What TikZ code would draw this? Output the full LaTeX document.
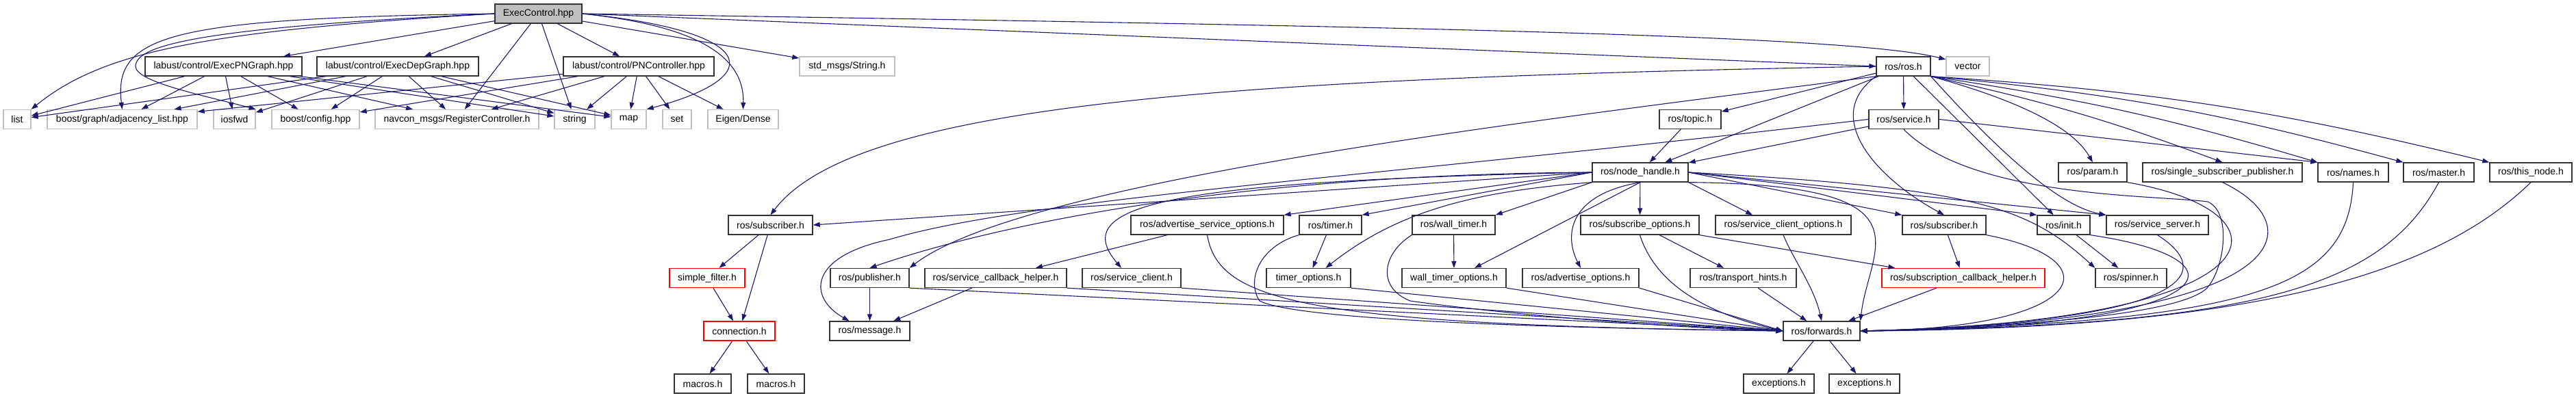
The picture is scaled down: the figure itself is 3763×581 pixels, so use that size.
\documentclass[tikz,border=0pt]{standalone}
\usepackage{fontspec}
\setmainfont{Liberation Sans}
\usepackage{tikz}
\usetikzlibrary{arrows.meta}
\usepackage{xcolor}
\definecolor{incblue}{HTML}{191970}
\definecolor{leafgray}{HTML}{BFBFBF}
\definecolor{boxred}{HTML}{FF0000}

\begin{document}
\begin{tikzpicture}[
  x=1pt, y=1pt,
  font=\fontsize{14}{16}\selectfont,
  >={Triangle[length=10pt, width=7pt]},
  file/.style={draw=black!80, line width=1.3pt, fill=white, minimum height=28pt, inner sep=0pt},
  sysfile/.style={file, draw=leafgray},
  brokenfile/.style={file, draw=boxred},
  rootfile/.style={file, fill=leafgray},
  inc/.style={->, draw=incblue, line width=1.1pt}
]
\useasboundingbox (0,0) rectangle (3763,-581);

\node[rootfile, minimum width=127pt] (execctl) at (786.5,-20) {ExecControl.hpp};
\node[file, minimum width=229pt] (pngraph) at (326.5,-97) {labust/control/ExecPNGraph.hpp};
\node[file, minimum width=236pt] (depgraph) at (581,-97) {labust/control/ExecDepGraph.hpp};
\node[file, minimum width=220pt] (pnctrl) at (933,-97) {labust/control/PNController.hpp};
\node[sysfile, minimum width=139pt] (stdstring) at (1237.5,-97) {std\_msgs/String.h};
\node[file, minimum width=79pt] (rosh) at (2780.5,-97) {ros/ros.h};
\node[sysfile, minimum width=63pt] (vector) at (2874.5,-97) {vector};

\node[sysfile, minimum width=40pt] (list) at (25,-174.5) {list};
\node[sysfile, minimum width=219pt] (adjlist) at (178.5,-174.5) {boost/graph/adjacency\_list.hpp};
\node[sysfile, minimum width=61pt] (iosfwd) at (342.5,-174.5) {iosfwd};
\node[sysfile, minimum width=128pt] (boostcfg) at (461,-174.5) {boost/config.hpp};
\node[sysfile, minimum width=239pt] (regctrl) at (667.5,-174.5) {navcon\_msgs/RegisterController.h};
\node[sysfile, minimum width=59pt] (string) at (839.5,-174.5) {string};
\node[sysfile, minimum width=51pt] (map) at (918.5,-174.5) {map};
\node[sysfile, minimum width=42pt] (set) at (989,-174.5) {set};
\node[sysfile, minimum width=103pt] (eigen) at (1085.5,-174.5) {Eigen/Dense};
\node[file, minimum width=90pt] (topic) at (2469,-174.5) {ros/topic.h};
\node[file, minimum width=102pt] (service) at (2781,-174.5) {ros/service.h};

\node[file, minimum width=140pt] (nodehandle) at (2396,-252) {ros/node\_handle.h};
\node[file, minimum width=100pt] (param) at (3057,-252) {ros/param.h};
\node[file, minimum width=233pt] (singlepub) at (3246.5,-252) {ros/single\_subscriber\_publisher.h};
\node[file, minimum width=103pt] (names) at (3437.5,-252) {ros/names.h};
\node[file, minimum width=103pt] (master) at (3562.5,-252) {ros/master.h};
\node[file, minimum width=120pt] (thisnode) at (3697,-252) {ros/this\_node.h};

\node[file, minimum width=123pt] (subleft) at (1125.5,-329) {ros/subscriber.h};
\node[file, minimum width=223pt] (advsrvopts) at (1763.5,-329) {ros/advertise\_service\_options.h};
\node[file, minimum width=91pt] (timer) at (1943.5,-329) {ros/timer.h};
\node[file, minimum width=121pt] (walltimer) at (2123.5,-329) {ros/wall\_timer.h};
\node[file, minimum width=173pt] (subopts) at (2395.5,-329) {ros/subscribe\_options.h};
\node[file, minimum width=198pt] (clientopts) at (2605,-329) {ros/service\_client\_options.h};
\node[file, minimum width=122pt] (subright) at (2840,-329) {ros/subscriber.h};
\node[file, minimum width=77pt] (init) at (3014.5,-329) {ros/init.h};
\node[file, minimum width=149pt] (srvserver) at (3151.5,-329) {ros/service\_server.h};

\node[brokenfile, minimum width=110pt] (simplefilter) at (1033,-406.5) {simple\_filter.h};
\node[file, minimum width=115pt] (publisher) at (1270.5,-406.5) {ros/publisher.h};
\node[file, minimum width=207pt] (srvcbhelper) at (1454.5,-406.5) {ros/service\_callback\_helper.h};
\node[file, minimum width=144pt] (srvclient) at (1653,-406.5) {ros/service\_client.h};
\node[file, minimum width=123pt] (timeropts) at (1911.5,-406.5) {timer\_options.h};
\node[file, minimum width=152pt] (walltimeropts) at (2124,-406.5) {wall\_timer\_options.h};
\node[file, minimum width=170pt] (advopts) at (2309,-406.5) {ros/advertise\_options.h};
\node[file, minimum width=155pt] (hints) at (2546.5,-406.5) {ros/transport\_hints.h};
\node[brokenfile, minimum width=238pt] (subcbhelper) at (2868,-406.5) {ros/subscription\_callback\_helper.h};
\node[file, minimum width=104pt] (spinner) at (3113,-406.5) {ros/spinner.h};

\node[brokenfile, minimum width=104pt] (connection) at (1080,-484) {connection.h};
\node[file, minimum width=117pt] (message) at (1270.5,-484) {ros/message.h};
\node[file, minimum width=112pt] (forwards) at (2661,-484) {ros/forwards.h};

\node[file, minimum width=83pt] (macrosa) at (1026.5,-561) {macros.h};
\node[file, minimum width=83pt] (macrosb) at (1133.5,-561) {macros.h};
\node[file, minimum width=103pt] (exca) at (2598.5,-561) {exceptions.h};
\node[file, minimum width=103pt] (excb) at (2723.5,-561) {exceptions.h};

\draw[inc] (execctl) -- (pngraph);
\draw[inc] (execctl) -- (depgraph);
\draw[inc] (execctl) -- (pnctrl);
\draw[inc] (execctl) -- (regctrl);
\draw[inc] (execctl) -- (string);
\draw[inc] (execctl) -- (stdstring);
\draw[inc] (execctl.east) .. controls (1100,-45) and (1130,-110) .. (map.north east);
\draw[inc] (execctl.east) .. controls (990,-35) and (1088,-70) .. (eigen.north);
\draw[inc] (execctl.east) -- (rosh.west);
\draw[inc] (execctl.east) .. controls (2000,-38) and (2700,-50) .. ([yshift=10pt]vector.west);
\draw[inc] (execctl.west) .. controls (300,-45) and (150,-75) .. (list.north east);
\draw[inc] (execctl.west) .. controls (250,-27) and (165,-50) .. (adjlist.north);
\draw[inc] (execctl.west) .. controls (300,-40) and (198,-65) .. (198,-97) .. controls (198,-120) and (300,-140) .. (iosfwd.north east);

\draw[inc] (pngraph) -- (list);
\draw[inc] (pngraph) -- (adjlist);
\draw[inc] (pngraph) -- (iosfwd);
\draw[inc] (pngraph) -- (boostcfg);
\draw[inc] (pngraph) -- (regctrl);
\draw[inc] (pngraph) -- (string);
\draw[inc] (pngraph) -- (map);
\draw[inc] (depgraph) -- (list);
\draw[inc] (depgraph) -- (adjlist);
\draw[inc] (depgraph) -- (iosfwd);
\draw[inc] (depgraph) -- (boostcfg);
\draw[inc] (depgraph) -- (regctrl);
\draw[inc] (depgraph) -- (string);
\draw[inc] (depgraph) -- (map);
\draw[inc] (pnctrl) -- (adjlist);
\draw[inc] (pnctrl) -- (boostcfg);
\draw[inc] (pnctrl) -- (regctrl);
\draw[inc] (pnctrl) -- (string);
\draw[inc] (pnctrl) -- (map);
\draw[inc] (pnctrl) -- (set);
\draw[inc] (pnctrl) -- (eigen);

\draw[inc] (rosh) -- (topic);
\draw[inc] (rosh) -- (nodehandle);
\draw[inc] (rosh) -- (service);
\draw[inc] (rosh.west) .. controls (1800,-115) and (1250,-150) .. (subleft.north);
\draw[inc] (rosh.south west) .. controls (2300,-170) and (1500,-260) .. (publisher.north east);
\draw[inc] (rosh.south west) .. controls (2660,-170) and (2740,-260) .. (subright.north);
\draw[inc] (rosh) -- (init);
\draw[inc] (rosh.south east) .. controls (2900,-200) and (3000,-300) .. (srvserver.north west);
\draw[inc] (rosh.south east) .. controls (2960,-150) and (3030,-190) .. (param.north);
\draw[inc] (rosh.south east) to[bend left=4] (singlepub.north);
\draw[inc] (rosh.south east) to[bend left=4] (names.north west);
\draw[inc] (rosh.south east) to[bend left=5] (master.north west);
\draw[inc] (rosh.south east) to[bend left=5] (thisnode.north west);

\draw[inc] (topic) -- (nodehandle);
\draw[inc] (service) -- (nodehandle);
\draw[inc] (service.east) -- (names.north west);
\draw[inc] (service.west) .. controls (2000,-260) and (1500,-290) .. (1300,-350) .. controls (1180,-375) and (1180,-435) .. ([xshift=-30pt]message.north);
\draw[inc] (service.south) .. controls (2880,-290) and (3150,-285) .. (3225,-295) .. controls (3260,-310) and (3250,-390) .. (3225,-420) .. controls (3190,-460) and (2950,-478) .. (forwards.east);

\draw[inc] (nodehandle.west) -- (subleft.east);
\draw[inc] (nodehandle.west) .. controls (1800,-255) and (1450,-330) .. (publisher.north);
\draw[inc] (nodehandle.west) .. controls (1700,-265) and (1560,-300) .. ([xshift=-15pt]srvclient.north);
\draw[inc] (nodehandle.west) -- (advsrvopts.north east);
\draw[inc] (nodehandle.west) -- (timer.north east);
\draw[inc] (nodehandle.south west) .. controls (2150,-280) and (2040,-310) .. ([xshift=25pt]timeropts.north);
\draw[inc] (nodehandle.south west) -- (walltimer.north east);
\draw[inc] (nodehandle.south) -- ([xshift=30pt]walltimeropts.north);
\draw[inc] (nodehandle.south) .. controls (2290,-285) and (2285,-345) .. (advopts.north);
\draw[inc] (nodehandle) -- (subopts);
\draw[inc] (nodehandle.south east) -- ([xshift=-45pt]clientopts.north);
\draw[inc] (nodehandle.east) -- (subright.north west);
\draw[inc] (nodehandle.east) -- (init.north west);
\draw[inc] (nodehandle.east) -- (srvserver.north west);
\draw[inc] (nodehandle.east) .. controls (2880,-275) and (2960,-300) .. (spinner.north west);
\draw[inc] (nodehandle.south east) .. controls (2830,-270) and (2730,-360) .. (forwards.north east);

\draw[inc] (subleft) -- (simplefilter);
\draw[inc] (subleft) -- (connection);
\draw[inc] (simplefilter) -- (connection);
\draw[inc] (connection) -- (macrosa);
\draw[inc] (connection) -- (macrosb);
\draw[inc] (publisher) -- (message);
\draw[inc] (publisher.south east) -- (forwards.west);
\draw[inc] (srvcbhelper) -- (message);
\draw[inc] (srvcbhelper.south east) -- (forwards.west);
\draw[inc] (srvclient.south east) -- (forwards.west);
\draw[inc] (advsrvopts) -- (srvcbhelper);
\draw[inc] (advsrvopts.south) .. controls (1780,-440) and (1900,-475) .. (forwards.west);
\draw[inc] (timer) -- (timeropts);
\draw[inc] (timer.south west) .. controls (1840,-360) and (1820,-410) .. (1840,-440) .. controls (1900,-470) and (2300,-480) .. (forwards.west);
\draw[inc] (walltimer) -- (walltimeropts);
\draw[inc] (walltimer.south west) .. controls (2020,-370) and (2010,-420) .. (2060,-440) .. controls (2200,-460) and (2450,-480) .. (forwards.west);
\draw[inc] (timeropts.south east) -- (forwards.west);
\draw[inc] (walltimeropts.south east) -- (forwards.west);
\draw[inc] (advopts.south east) -- (forwards.west);
\draw[inc] (subopts) -- (hints);
\draw[inc] (subopts.south) .. controls (2420,-420) and (2500,-460) .. (forwards.west);
\draw[inc] (subopts.south east) -- ([xshift=20pt]subcbhelper.north west);
\draw[inc] (hints) -- (forwards);
\draw[inc] (clientopts.south) .. controls (2620,-380) and (2650,-420) .. (forwards.north);
\draw[inc] (subright) -- (subcbhelper);
\draw[inc] (subright.south east) .. controls (3090,-380) and (3050,-480) .. (forwards.east);
\draw[inc] (subcbhelper) -- (forwards);
\draw[inc] (init) -- (spinner);
\draw[inc] (init.south east) .. controls (3300,-380) and (3250,-480) .. (forwards.east);
\draw[inc] (srvserver.south) .. controls (3240,-400) and (3200,-470) .. (forwards.east);
\draw[inc] (param.south east) .. controls (3360,-310) and (3340,-470) .. (forwards.east);
\draw[inc] (singlepub.south) .. controls (3380,-330) and (3360,-470) .. (forwards.east);
\draw[inc] (names.south) .. controls (3430,-420) and (3300,-470) .. (forwards.east);
\draw[inc] (master.south) .. controls (3480,-420) and (3300,-475) .. (forwards.east);
\draw[inc] (thisnode.south) .. controls (3560,-400) and (3300,-480) .. (forwards.east);
\draw[inc] (forwards) -- (exca);
\draw[inc] (forwards) -- (excb);
\end{tikzpicture}
\end{document}
